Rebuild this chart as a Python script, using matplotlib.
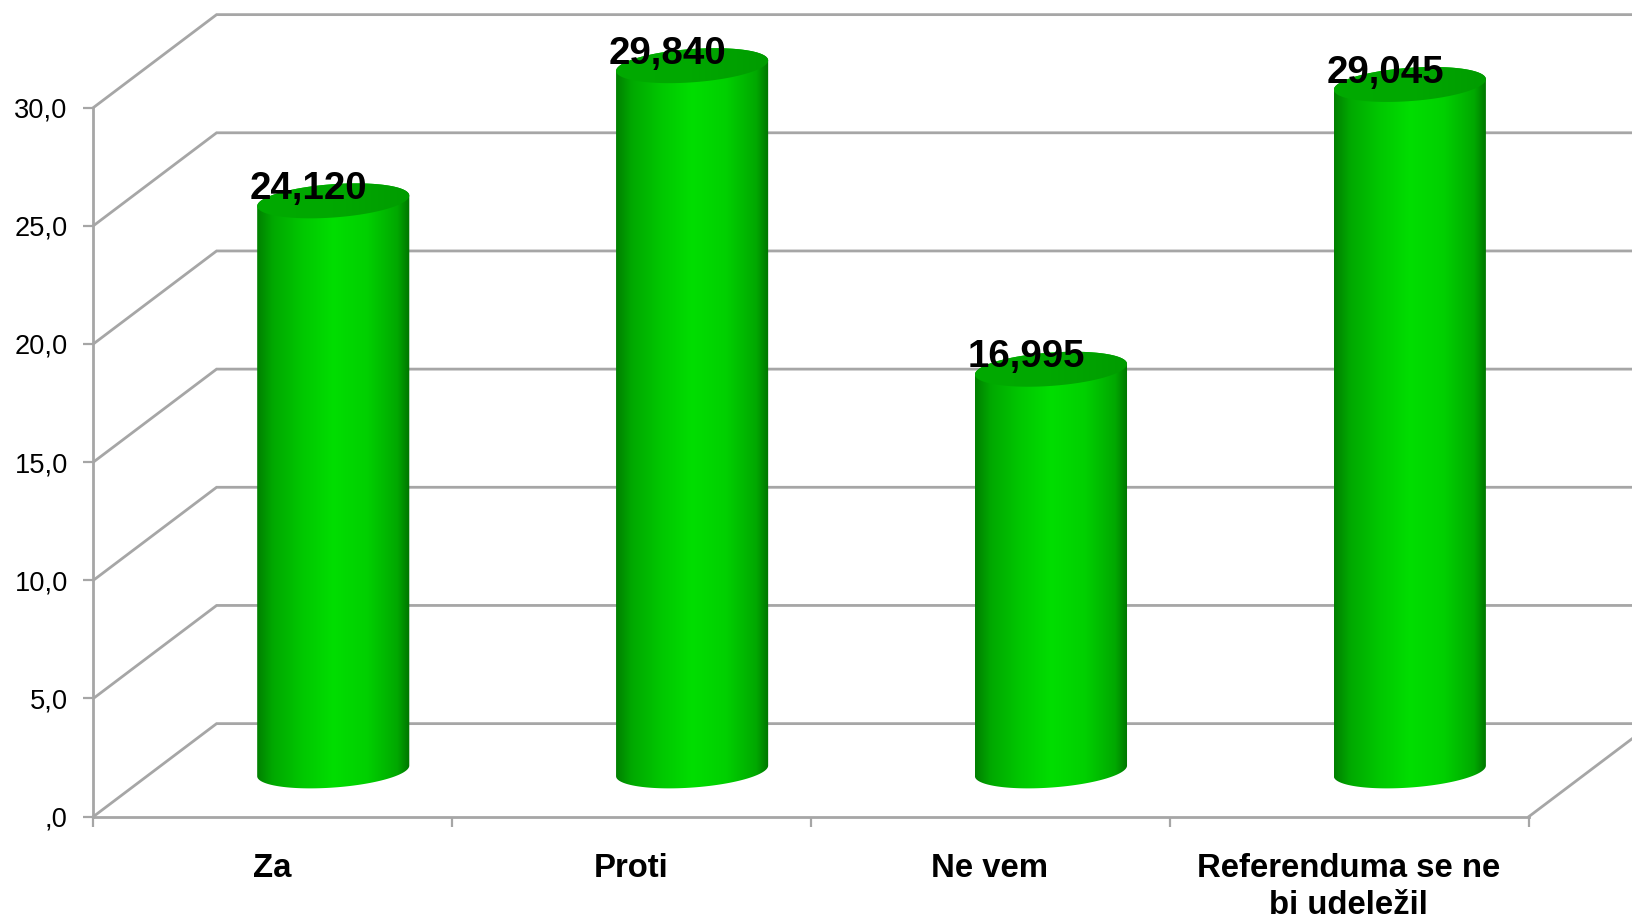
import matplotlib
matplotlib.use("Agg")
import matplotlib.pyplot as plt
import numpy as np
from matplotlib.colors import LinearSegmentedColormap
from matplotlib.patches import Polygon

categories = ["Za", "Proti", "Ne vem", "Referenduma se ne\nbi udeležil"]
values = [24.120, 29.840, 16.995, 29.045]
value_labels = ["24,120", "29,840", "16,995", "29,045"]
y_ticks = [0, 5, 10, 15, 20, 25, 30]
y_tick_labels = [",0", "5,0", "10,0", "15,0", "20,0", "25,0", "30,0"]

W, H = 1633, 921
GRID = "#a6a6a6"

# 3d look: how far the back wall sits from the front axes, in data units
DEPTH_X = 0.343
DEPTH_Y = 3.93
# cylinder sits half way back, its base is a sheared circle
BAR_DX = 0.168
BAR_DY = 1.93
R_A = 0.202
R_BX = 0.064
R_BY = 0.74

plt.rcParams["font.family"] = ["Liberation Sans", "DejaVu Sans"]

fig = plt.figure(figsize=(W / 100, H / 100), dpi=100, facecolor="white")
ax = fig.add_axes([93.5 / W, 1 - 816.5 / H, (1529 - 93.5) / W, (816.5 - 107.5) / H])
ax.set_xlim(0, 4)
ax.set_ylim(0, 30)
ax.set_autoscale_on(False)
ax.patch.set_alpha(0)

for s in ["top", "right"]:
    ax.spines[s].set_visible(False)
for s in ["left", "bottom"]:
    ax.spines[s].set_color(GRID)
    ax.spines[s].set_linewidth(2.0)

ax.set_yticks(y_ticks)
ax.set_yticklabels(y_tick_labels, fontsize=19.6)
ax.tick_params(axis="y", length=7, width=1.6, color=GRID, pad=11.5)
ax.set_xticks(range(5))
ax.set_xticklabels([])
ax.tick_params(axis="x", which="major", length=7.5, width=1.6, color=GRID)
ax.set_xticks(np.arange(len(categories)) + 0.497, minor=True)
ax.set_xticklabels(categories, minor=True, fontsize=23.7, fontweight="bold", linespacing=1.22)
ax.tick_params(axis="x", which="minor", length=0, pad=26.5)

# back wall grid and the slanted lines up to it
for v in y_ticks:
    ax.plot([0, DEPTH_X, 4 + DEPTH_X], [v, v + DEPTH_Y, v + DEPTH_Y], color=GRID, lw=2.0,
            clip_on=False, zorder=1, solid_joinstyle="miter")
ax.plot([4, 4 + DEPTH_X], [0, DEPTH_Y], color=GRID, lw=2.0, clip_on=False, zorder=1)

side_cmap = LinearSegmentedColormap.from_list(
    "side", [(0, "#008000"), (0.1, "#00a800"), (0.3, "#00c800"), (0.5, "#00de00"),
             (0.72, "#00d000"), (0.92, "#00a800"), (1, "#007400")])
top_cmap = LinearSegmentedColormap.from_list("top", ["#00aa00", "#00a800", "#009c00"])

t = np.linspace(0, 2 * np.pi, 181)
half_w = np.hypot(R_A, R_BX)
t0 = np.arctan2(R_BX, R_A)
lo = np.linspace(t0 + np.pi, t0 + 2 * np.pi, 90)
hi = lo - np.pi
for i, val in enumerate(values):
    cx = i + 0.5 + BAR_DX

    # outline of the side: lower half of the base, upper half of the top
    xs = cx + R_A * np.cos(lo) + R_BX * np.sin(lo)
    ys = BAR_DY + R_BY * np.sin(lo)
    xt = cx + R_A * np.cos(hi) + R_BX * np.sin(hi)
    yt = BAR_DY + val + R_BY * np.sin(hi)
    outline = np.column_stack([np.r_[xs, xt], np.r_[ys, yt]])

    side = Polygon(outline, closed=True, fc="none", ec="none", clip_on=False)
    ax.add_patch(side)
    im = ax.imshow(np.linspace(0, 1, 256)[None, :], cmap=side_cmap, aspect="auto", vmin=0, vmax=1,
                   extent=[cx - half_w, cx + half_w, -2, 34], zorder=3, interpolation="bilinear")
    im.set_clip_box(fig.bbox)
    im.set_clip_path(side)

    ex = R_A * np.cos(t) + R_BX * np.sin(t)
    ey = R_BY * np.sin(t)
    cap = Polygon(np.column_stack([cx + ex, BAR_DY + val + ey]), closed=True, fc="none", ec="none", clip_on=False)
    ax.add_patch(cap)
    im2 = ax.imshow(np.linspace(0, 1, 128)[None, :], cmap=top_cmap, aspect="auto", vmin=0, vmax=1,
                    extent=[cx - half_w, cx + half_w, -2, 34], zorder=4, interpolation="bilinear")
    im2.set_clip_box(fig.bbox)
    im2.set_clip_path(cap)

    ax.annotate(value_labels[i], (cx, BAR_DY + val), xytext=(-17.5, 8.5), textcoords="offset points",
                ha="center", va="center", fontsize=27.7, fontweight="bold", color="black", zorder=6,
                annotation_clip=False)

ax.set_xlim(0, 4)
ax.set_ylim(0, 30)
fig.savefig("out.png", dpi=100)
